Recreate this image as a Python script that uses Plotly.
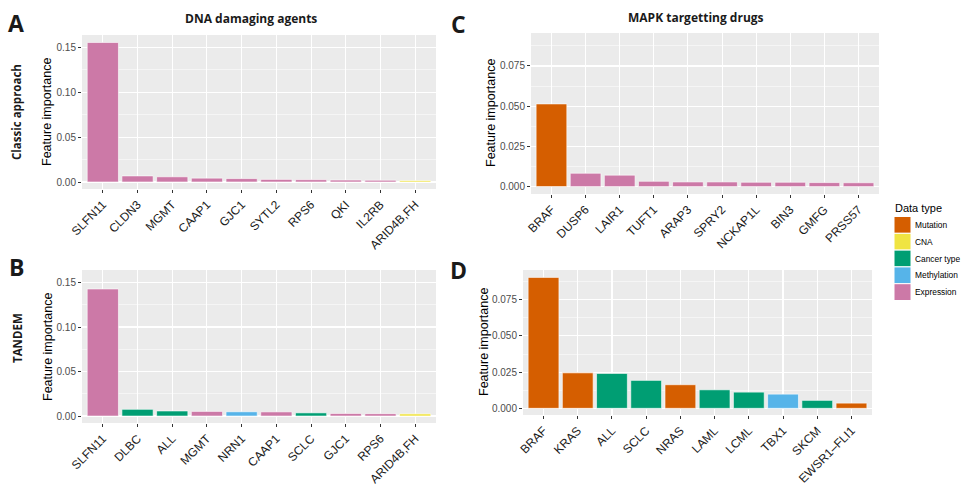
import plotly.graph_objects as go

W, H = 961, 486

# ---------------- data ----------------
TYPES = ["Mutation", "CNA", "Cancer type", "Methylation", "Expression"]
TYPE_COLORS = ["#D55E00", "#F0E442", "#009E73", "#56B4E9", "#CC79A7"]

a_features = ["SLFN11", "CLDN3", "MGMT", "CAAP1", "GJC1", "SYTL2", "RPS6", "QKI", "IL2RB", "ARID4B,FH"]
a_values = [0.1556, 0.0068, 0.0058, 0.0043, 0.0038, 0.0029, 0.0026, 0.0022, 0.0020, 0.0015]
a_types = ["Expression", "Expression", "Expression", "Expression", "Expression",
           "Expression", "Expression", "Expression", "Expression", "CNA"]

b_features = ["SLFN11", "DLBC", "ALL", "MGMT", "NRN1", "CAAP1", "SCLC", "GJC1", "RPS6", "ARID4B,FH"]
b_values = [0.1427, 0.0075, 0.0057, 0.0052, 0.0048, 0.0047, 0.0036, 0.0029, 0.0027, 0.0025]
b_types = ["Expression", "Cancer type", "Cancer type", "Expression", "Methylation",
           "Expression", "Cancer type", "Expression", "Expression", "CNA"]

c_features = ["BRAF", "DUSP6", "LAIR1", "TUFT1", "ARAP3", "SPRY2", "NCKAP1L", "BIN3", "GMFG", "PRSS57"]
c_values = [0.0514, 0.0083, 0.0071, 0.0033, 0.0029, 0.0029, 0.0027, 0.0027, 0.0025, 0.0024]
c_types = ["Mutation", "Expression", "Expression", "Expression", "Expression",
           "Expression", "Expression", "Expression", "Expression", "Expression"]

d_features = ["BRAF", "KRAS", "ALL", "SCLC", "NRAS", "LAML", "LCML", "TBX1", "SKCM", "EWSR1–FLI1"]
d_values = [0.0904, 0.0245, 0.0241, 0.0193, 0.0163, 0.0128, 0.0112, 0.0098, 0.0055, 0.0036]
d_types = ["Mutation", "Mutation", "Cancer type", "Cancer type", "Mutation",
           "Cancer type", "Cancer type", "Methylation", "Cancer type", "Mutation"]

panel_titles = ["DNA damaging agents", "MAPK targetting drugs"]
row_labels = ["Classic approach", "TANDEM"]
panel_letters = ["A", "B", "C", "D"]
y_title = "Feature importance"

color_of = dict(zip(TYPES, TYPE_COLORS))

# ---------------- helpers ----------------
def px(x):
    return x / W

def py(y):
    return 1 - y / H

def xdom(x0, x1):
    return [px(x0), px(x1)]

def ydom(y0, y1):
    return [py(y1), py(y0)]

TICK_FONT_X = dict(family="Liberation Sans, Arial", size=12, color="#1a1a1a")
TICK_FONT_Y = dict(family="Liberation Sans, Arial", size=10, color="#4D4D4D")
BOLD = "Open Sans"

def xaxis(domain, anchor):
    return dict(domain=domain, anchor=anchor, type="category", range=[-0.6, 9.6],
                showgrid=True, gridcolor="white", gridwidth=1.1,
                ticks="outside", ticklen=3, tickwidth=1, tickcolor="#333333",
                tickangle=-45, tickfont=TICK_FONT_X, showline=False, zeroline=False,
                fixedrange=True, automargin=False)

def yaxis(domain, anchor, rng, dtick, fmt):
    return dict(domain=domain, anchor=anchor, range=rng, tick0=0, dtick=dtick,
                tickformat=fmt, showgrid=True, gridcolor="white", gridwidth=1.1,
                minor=dict(dtick=dtick / 2, tick0=0, showgrid=True, gridcolor="white",
                           gridwidth=0.5, ticks=""),
                ticks="outside", ticklen=3, tickwidth=1, tickcolor="#333333",
                tickfont=TICK_FONT_Y, showline=False, zeroline=False, fixedrange=True,
                automargin=False)

fig = go.Figure()

panels = [
    (a_features, a_values, a_types, "x", "y"),
    (b_features, b_values, b_types, "x3", "y3"),
    (c_features, c_values, c_types, "x2", "y2"),
    (d_features, d_values, d_types, "x4", "y4"),
]
for feats, vals, types, xa, ya in panels:
    fig.add_trace(go.Bar(
        x=feats, y=vals, width=0.9,
        marker=dict(color=[color_of[t] for t in types], line=dict(color="white", width=0.6)),
        xaxis=xa, yaxis=ya, showlegend=False,
        hovertemplate="%{x}: %{y:.4f}<extra></extra>",
    ))

left_rng = [-0.0078, 0.164]
right_rng = [-0.0046, 0.0955]

fig.update_layout(
    width=W, height=H, autosize=False,
    margin=dict(l=0, r=0, t=0, b=0, pad=0),
    paper_bgcolor="white", plot_bgcolor="#EBEBEB",
    bargap=0.1,
    xaxis=xaxis(xdom(82, 436), "y"),
    yaxis=yaxis(ydom(35, 189), "x", left_rng, 0.05, ".2f"),
    xaxis2=xaxis(xdom(531, 879), "y2"),
    yaxis2=yaxis(ydom(33, 194), "x2", right_rng, 0.025, ".3f"),
    xaxis3=xaxis(xdom(82, 436), "y3"),
    yaxis3=yaxis(ydom(270, 423), "x3", left_rng, 0.05, ".2f"),
    xaxis4=xaxis(xdom(523, 872), "y4"),
    yaxis4=yaxis(ydom(270, 415), "x4", right_rng, 0.025, ".3f"),
)

ann = []
def add_text(text, x, y, size, bold=False, angle=0, family=BOLD, color="#1a1a1a",
             xanchor="center"):
    ann.append(dict(text=("<b>%s</b>" % text) if bold else text, x=px(x), y=py(y),
                    xref="paper", yref="paper", showarrow=False, textangle=angle,
                    xanchor=xanchor, yanchor="middle",
                    font=dict(family=family, size=size, color=color)))

# panel letters
add_text(panel_letters[0], 16, 23, 23, bold=True)
add_text(panel_letters[1], 16, 267, 23, bold=True)
add_text(panel_letters[2], 458, 24, 23, bold=True)
add_text(panel_letters[3], 458, 270, 23, bold=True)
# column titles
add_text(panel_titles[0], 250.5, 19, 12, bold=True)
add_text(panel_titles[1], 696, 17, 12, bold=True)
# row labels
add_text(row_labels[0], 16, 112, 11.5, bold=True, angle=-90)
add_text(row_labels[1], 17, 338, 11.5, bold=True, angle=-90)
# y-axis titles
yfont = "Liberation Sans, Arial"
add_text(y_title, 47, 112, 12.5, angle=-90, family=yfont, color="black")
add_text(y_title, 48, 347, 12.5, angle=-90, family=yfont, color="black")
add_text(y_title, 491, 113, 12.5, angle=-90, family=yfont, color="black")
add_text(y_title, 484, 342, 12.5, angle=-90, family=yfont, color="black")

# legend (drawn manually, ggplot style)
add_text("Data type", 893, 208, 11, family=yfont, color="black", xanchor="left")
shapes = []
key_x0, key_x1 = 894, 911
key_y0, key_h = 216.5, 16.8
for i, (t, c) in enumerate(zip(TYPES, TYPE_COLORS)):
    y0 = key_y0 + i * key_h
    shapes.append(dict(type="rect", xref="paper", yref="paper",
                       x0=px(key_x0), x1=px(key_x1), y0=py(y0 + key_h), y1=py(y0),
                       fillcolor=c, line=dict(color="white", width=1)))
    add_text(t, 913, y0 + key_h / 2, 8.4, family=yfont, color="black", xanchor="left")

fig.update_layout(annotations=ann, shapes=shapes)

fig.write_html(
    "out.html",
    config={"displayModeBar": False, "staticPlot": True},
    post_script="document.body.style.margin='0';document.body.style.padding='0';"
                "document.body.style.overflow='hidden';",
)
